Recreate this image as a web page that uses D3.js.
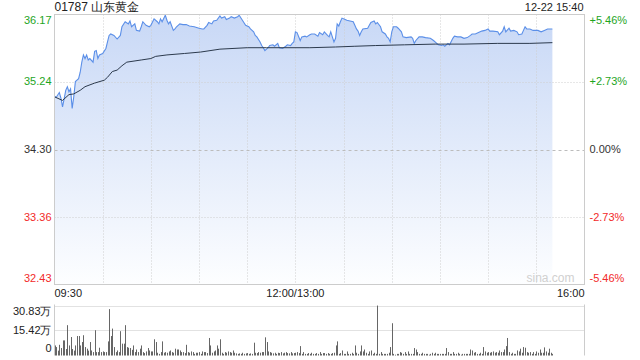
<!DOCTYPE html>
<html>
<head>
<meta charset="utf-8">
<script src="https://cdn.jsdelivr.net/npm/d3@7"></script>
<style>
  body { margin: 0; background: #fff; }
  svg text { font-family: Arial, "Liberation Sans", sans-serif; font-size: 11px; }
</style>
</head>
<body>
<div id="chart"></div>
<script>
// minute index from 09:30 (lunch removed), 0..330
let priceMin = [0,1,3,4,5,6,7,8,9,10,11,12,13,15,16,17,18,19,20,21,22,24,25,26,27,28,30,32,33,34,35,37,39,41,42,44,46,47,48,50,
  51,53,54,55,57,59,60,62,64,65,66,67,69,70,71,72,74,75,76,78,80,82,84,87,90,92,93,95,96,98,99,101,103,104,106,107,109,110,112,114,
  115,117,119,121,122,124,125,126,128,129,130,131,133,134,136,137,139,140,142,144,145,147,148,149,150,151,153,154,156,157,159,160,162,164,165,167,168,170,171,172,
  173,174,175,176,177,178,179,181,182,184,186,187,188,189,190,191,192,195,196,197,199,200,201,203,204,206,207,208,209,210,211,213,214,216,217,219,222,223,224,225,
  227,229,231,234,236,238,239,241,242,243,245,246,248,249,251,253,255,257,259,260,262,264,266,268,270,271,273,276,277,279,280,281,283,284,286,288,289,291,292,293,
  294,296,298,301,303,305,307,310];
let price = [35.04,35.02,35.09,35.01,34.89,35.00,35.12,35.17,35.10,35.14,34.87,35.03,35.24,35.28,35.37,35.51,35.61,35.56,35.61,35.54,35.56,35.51,35.66,35.67,35.56,35.61,35.63,35.70,35.79,35.88,35.90,35.88,35.83,35.88,36.00,36.07,36.04,36.08,36.00,36.04,
  35.95,35.94,36.00,36.07,36.02,36.00,36.02,36.11,36.07,36.04,36.11,36.07,36.16,36.09,36.04,36.07,35.95,35.97,36.00,36.04,36.03,36.03,36.01,36.00,35.98,35.97,35.97,36.02,36.06,36.04,36.08,36.09,36.15,36.12,36.14,36.10,36.12,36.14,36.12,36.14,
  36.16,36.09,36.02,36.00,35.97,35.93,35.88,35.86,35.79,35.74,35.71,35.67,35.71,35.74,35.75,35.73,35.77,35.71,35.70,35.73,35.75,35.74,35.77,35.79,35.93,35.92,35.81,35.86,35.87,35.86,35.89,35.90,35.90,35.87,35.92,35.89,35.93,35.88,35.86,35.93,
  35.86,35.79,35.84,36.04,36.01,36.07,36.12,36.10,36.09,36.08,36.07,36.02,35.97,35.94,35.88,35.93,35.97,35.98,36.02,36.06,36.08,36.04,36.06,36.00,35.93,35.90,35.86,35.84,35.79,35.93,36.00,36.00,35.98,35.93,35.86,35.85,35.86,35.84,35.77,35.81,
  35.86,35.86,35.85,35.84,35.81,35.77,35.75,35.74,35.75,35.73,35.77,35.75,35.84,35.87,35.86,35.86,35.84,35.85,35.88,35.90,35.90,35.92,35.94,35.95,35.97,35.94,35.94,35.93,35.89,35.94,36.00,35.93,35.98,35.94,35.95,35.93,35.89,35.90,35.95,36.00,
  35.97,35.97,35.95,35.95,35.93,35.95,35.97,35.97];

let avgMin = [0,5,9,12,16,19,25,31,33,36,39,42,45,54,60,63,70,81,91,103,120,132,159,175,187,200,218,237,255,276,296,310];
let avgPrice = [35.03,34.98,35.06,35.07,35.12,35.17,35.22,35.26,35.30,35.38,35.40,35.46,35.51,35.54,35.56,35.59,35.61,35.63,35.65,35.69,35.71,35.71,35.71,35.72,35.73,35.74,35.75,35.76,35.76,35.77,35.77,35.78];

// volume per minute, unit 万
let volume = [6.2,5.2,3.0,6.6,4.6,9.3,9.3,4.0,18.7,6.2, 11.4,4.0,3.0,6.2,12.0,12.0,6.2,8.3,12.5,5.2,
  4.2,3.0,8.3,3.1,2.1,15.6,2.1,2.1,4.8,2.1, 2.5,2.1,2.1,8.7,28.6,12.0,16.6,5.2,2.1,3.1,
  2.1,15.0,7.3,7.3,18.7,5.2,4.8,4.6,3.5,6.2, 2.1,3.7,2.1,4.2,6.2,2.1,1.5,2.5,4.6,3.1,
  2.5,2.5,10.0,8.3,1.7,1.0,2.1,8.7,1.7,2.1, 1.7,2.5,3.1,2.1,1.7,4.2,3.7,3.7,3.1,2.1,
  2.1,1.5,6.6,2.1,1.7,2.5,2.1,1.0,1.7,1.7, 2.1,1.0,2.5,2.1,2.1,1.5,10.8,6.2,1.7,2.5,
  3.1,6.2,4.2,10.0,1.7,1.0,2.1,1.7,2.5,2.1, 1.7,3.1,1.7,1.3,1.0,1.3,1.0,1.7,1.0,1.3,
  1.5,1.0,1.3,1.0,7.9,1.7,1.5,2.1,1.7,2.1, 2.1,11.2,8.3,2.5,2.1,1.7,1.3,1.7,1.0,1.7,
  1.5,2.1,1.3,1.7,2.1,1.5,1.3,2.1,1.3,1.5, 1.7,2.1,1.5,5.8,1.0,2.1,1.0,1.0,1.5,1.0,
  1.7,1.0,1.0,1.5,1.0,2.1,1.0,1.5,1.5,1.0, 1.5,1.0,1.0,1.5,1.7,6.2,8.7,1.0,1.5,3.1,
  1.0,1.0,2.5,1.0,1.0,1.7,1.0,6.2,1.7,1.0, 2.5,6.2,2.5,3.7,1.7,1.0,2.5,3.1,1.0,1.7,
  1.0,30.8,1.0,2.1,1.0,1.0,1.0,1.0,1.7,5.2, 19.9,1.0,0.5,1.0,1.0,2.1,1.7,1.0,2.1,1.0,
  2.5,1.0,1.0,1.0,4.6,3.7,2.1,1.0,1.0,1.7, 1.0,1.0,1.0,0.5,1.0,1.7,1.0,1.7,1.0,1.0,
  1.0,1.0,1.0,1.0,4.6,2.1,1.0,1.0,2.1,1.0, 1.0,1.7,1.0,0.5,1.0,1.0,1.0,1.0,1.0,3.7,
  3.1,1.7,2.1,1.0,1.0,1.7,1.0,5.2,2.5,1.7, 2.1,1.7,2.1,2.5,1.7,2.1,1.7,3.1,2.1,2.1,
  3.7,5.8,10.8,2.1,1.0,1.7,1.0,1.0,3.1,2.5, 4.2,1.7,5.2,4.8,2.1,1.7,2.1,1.0,2.1,1.0,
  2.5,1.7,3.7,1.7,1.7,5.0,2.5,1.7,4.2,1.7, 1.0];

let priceTicks = [36.17, 35.24, 34.30, 33.36, 32.43];
let pctTicks = ["+5.46%", "+2.73%", "0.00%", "-2.73%", "-5.46%"];
let volTicks = [30.83, 15.42, 0];
let volLabels = ["30.83万", "15.42万", "0"];
let timeTicks = [0, 150, 330];
let timeLabels = ["09:30", "12:00/13:00", "16:00"];
let gridMins = [30, 60, 90, 120, 150, 180, 210, 240, 270, 300];

let width = 640, height = 360;
let left = 54.5, right = 584.5;
let pTop = 14.5, pBottom = 284.5;
let vTop = 305.5, vBottom = 355.5;

let green = "#1ea51e", red = "#f22a2a";

let svg = d3.select("#chart").append("svg")
    .attr("width", width)
    .attr("height", height);

let xScale = d3.scaleLinear().domain([0, 330]).range([left, right]);
let yScale = d3.scaleLinear().domain([32.43, 36.17]).range([pBottom, pTop]);
let vScale = d3.scaleLinear().domain([0, 30.83]).range([vBottom, vTop]);

let defs = svg.append("defs");
let grad = defs.append("linearGradient").attr("id", "fillGrad")
    .attr("x1", 0).attr("y1", 0).attr("x2", 0).attr("y2", 1);
grad.append("stop").attr("offset", "0%").attr("stop-color", "#c8d8f6");
grad.append("stop").attr("offset", "100%").attr("stop-color", "#fdfeff");

// area fill
let priceData = priceMin.map((m, i) => ({m: m, p: price[i]}));
let area = d3.area()
    .x(d => xScale(d.m))
    .y0(pBottom)
    .y1(d => yScale(d.p));
svg.append("path")
    .datum(priceData)
    .attr("d", area)
    .attr("fill", "url(#fillGrad)");

// grid
let gridGroup = svg.append("g").classed("gridGroup", true);
gridGroup.selectAll(".vgrid")
    .data(gridMins)
    .enter().append("line")
    .attr("x1", d => Math.round(xScale(d)) + 0.5)
    .attr("x2", d => Math.round(xScale(d)) + 0.5)
    .attr("y1", pTop).attr("y2", pBottom)
    .attr("stroke", "#cfcfcf")
    .attr("stroke-dasharray", "1,2");
gridGroup.selectAll(".hgrid")
    .data(priceTicks.slice(1, 4))
    .enter().append("line")
    .attr("x1", left).attr("x2", right)
    .attr("y1", d => Math.round(yScale(d)) + 0.5)
    .attr("y2", d => Math.round(yScale(d)) + 0.5)
    .attr("stroke", (d, i) => i == 1 ? "#bcbcbc" : "#cfcfcf")
    .attr("stroke-dasharray", (d, i) => i == 1 ? "3,3" : "1,2");

// volume grid
gridGroup.selectAll(".vhgrid")
    .data(volTicks.slice(0, 2))
    .enter().append("line")
    .attr("x1", left).attr("x2", right)
    .attr("y1", d => Math.round(vScale(d)) + 0.5)
    .attr("y2", d => Math.round(vScale(d)) + 0.5)
    .attr("stroke", "#c4c4c4")
    .attr("stroke-dasharray", "1,1");

// lines
let priceLine = d3.line().x(d => xScale(d.m)).y(d => yScale(d.p));
svg.append("path")
    .datum(priceData)
    .attr("d", priceLine)
    .attr("fill", "none")
    .attr("stroke", "#5b8fe8")
    .attr("stroke-width", 1.1);

let avgData = avgMin.map((m, i) => ({m: m, p: avgPrice[i]}));
svg.append("path")
    .datum(avgData)
    .attr("d", priceLine)
    .attr("fill", "none")
    .attr("stroke", "#2c3a4d")
    .attr("stroke-width", 1);

// border of price panel
svg.append("rect")
    .attr("x", left).attr("y", pTop)
    .attr("width", right - left).attr("height", pBottom - pTop)
    .attr("fill", "none")
    .attr("stroke", "#cccccc");

// volume bars
svg.append("g").selectAll("rect")
    .data(volume)
    .enter().append("rect")
    .attr("x", (d, i) => Math.round(xScale(i)))
    .attr("width", 1)
    .attr("y", d => vScale(d))
    .attr("height", d => vBottom - vScale(d))
    .attr("fill", "#666666");

// volume panel borders
svg.append("line").attr("x1", left).attr("x2", left).attr("y1", vTop - 1).attr("y2", vBottom).attr("stroke", "#cccccc");
svg.append("line").attr("x1", right).attr("x2", right).attr("y1", vTop - 1).attr("y2", vBottom).attr("stroke", "#cccccc");

// left price labels
let tickColor = (i) => i < 2 ? green : (i == 2 ? "#333" : red);
let shift = (i, n) => i == 0 ? 6 : (i == n - 1 ? -6 : 0);
svg.append("g").selectAll("text")
    .data(priceTicks)
    .enter().append("text")
    .attr("x", left - 3)
    .attr("y", (d, i) => yScale(d) + shift(i, priceTicks.length))
    .attr("dy", "0.35em")
    .attr("text-anchor", "end")
    .attr("fill", (d, i) => tickColor(i))
    .text(d => d.toFixed(2));

svg.append("g").selectAll("text")
    .data(pctTicks)
    .enter().append("text")
    .attr("x", right + 5)
    .attr("y", (d, i) => yScale(priceTicks[i]) + shift(i, pctTicks.length))
    .attr("dy", "0.35em")
    .attr("fill", (d, i) => tickColor(i))
    .text(d => d);

// time labels
svg.append("g").selectAll("text")
    .data(timeTicks)
    .enter().append("text")
    .attr("x", d => xScale(d))
    .attr("y", 293)
    .attr("dy", "0.35em")
    .attr("text-anchor", (d, i) => i == 0 ? "start" : (i == 1 ? "middle" : "end"))
    .attr("fill", "#222")
    .text((d, i) => timeLabels[i]);

// volume labels
svg.append("g").selectAll("text")
    .data(volTicks)
    .enter().append("text")
    .attr("x", left - 3)
    .attr("y", (d, i) => vScale(d) + (i == 0 ? 6 : (i == 2 ? -7 : 0)))
    .attr("dy", "0.35em")
    .attr("text-anchor", "end")
    .attr("fill", "#222")
    .text((d, i) => volLabels[i]);

// title and time
svg.append("text")
    .attr("x", left).attr("y", 11)
    .style("font-size", "12px")
    .attr("fill", "#222")
    .text("01787 山东黄金");
svg.append("text")
    .attr("x", right - 1).attr("y", 11)
    .attr("text-anchor", "end")
    .attr("fill", "#222")
    .text("12-22 15:40");

svg.append("text")
    .attr("x", right - 10).attr("y", 278)
    .attr("dy", "0.35em")
    .attr("text-anchor", "end")
    .style("font-size", "12px")
    .attr("fill", "#d0d0d0")
    .text("sina.com");
</script>
</body>
</html>
